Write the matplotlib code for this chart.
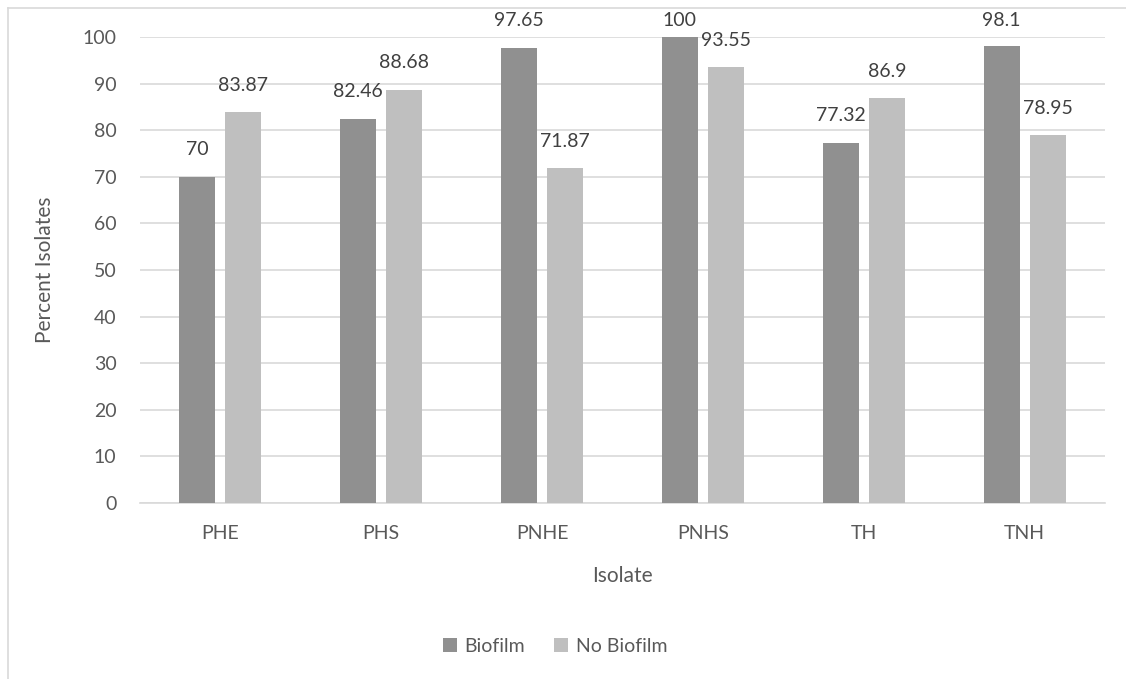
import matplotlib
matplotlib.use("Agg")
import matplotlib.pyplot as plt
from matplotlib.lines import Line2D
import numpy as np

categories = ["PHE", "PHS", "PNHE", "PNHS", "TH", "TNH"]
biofilm = [70, 82.46, 97.65, 100, 77.32, 98.1]
no_biofilm = [83.87, 88.68, 71.87, 93.55, 86.9, 78.95]
biofilm_labels = ["70", "82.46", "97.65", "100", "77.32", "98.1"]
no_biofilm_labels = ["83.87", "88.68", "71.87", "93.55", "86.9", "78.95"]
yticks = [0, 10, 20, 30, 40, 50, 60, 70, 80, 90, 100]

plt.rcParams['font.family'] = ['Lato', 'DejaVu Sans']
txt = "#595959"
W, H = 1126, 679
fig = plt.figure(figsize=(W / 100, H / 100), dpi=100)
ax = fig.add_axes([140 / W, 1 - 503 / H, (1105 - 140) / W, (503 - 37) / H])

x = np.arange(len(categories))
bw = 36 / 160.8
off = 23 / 160.8
b1 = ax.bar(x - off, biofilm, bw, color="#909090", label="Biofilm", zorder=3)
b2 = ax.bar(x + off, no_biofilm, bw, color="#BFBFBF", label="No Biofilm", zorder=3)

ax.set_xlim(-0.5, len(categories) - 0.5)
ax.set_ylim(0, 100)

# data labels: centred ~27 px above each bar, kept inside the chart area
px_per_unit = (503 - 37) / 100.0
gap = 27 / px_per_unit
ymax_label = (503 - 21) / px_per_unit
for xs, vals, labs in [(x - off, biofilm, biofilm_labels), (x + off, no_biofilm, no_biofilm_labels)]:
    for xi, v, lab in zip(xs, vals, labs):
        ax.text(xi, min(v + gap, ymax_label), lab, ha="center", va="center",
                fontsize=14, color="#404040", clip_on=False, zorder=4)

ax.set_yticks(yticks)
ax.set_xticks(x)
ax.set_xticklabels(categories)
ax.yaxis.grid(True, color="#D9D9D9", linewidth=1.2, zorder=0)
ax.set_axisbelow(True)
for s in ["top", "right", "left"]:
    ax.spines[s].set_visible(False)
ax.spines["bottom"].set_color("#D9D9D9")
ax.spines["bottom"].set_linewidth(1.2)
ax.tick_params(axis="both", length=0, labelsize=14, labelcolor=txt)
ax.tick_params(axis="x", pad=16)
ax.tick_params(axis="y", pad=17)
ax.set_xlabel("Isolate", fontsize=15, color=txt, labelpad=17)
ax.set_ylabel("Percent Isolates", fontsize=15, color=txt, labelpad=20)

leg = fig.legend(loc="center", bbox_to_anchor=(555 / W, 1 - 646 / H), ncol=2,
                 frameon=False, fontsize=14, handlelength=0.7, handleheight=0.7,
                 columnspacing=1.5, handletextpad=0.4)
for t in leg.get_texts():
    t.set_color(txt)

fig.add_artist(Line2D([8 / W, 8 / W], [0, 1 - 8 / H], transform=fig.transFigure,
                      color="#D9D9D9", linewidth=1.2))
fig.add_artist(Line2D([8 / W, 1], [1 - 8 / H, 1 - 8 / H], transform=fig.transFigure,
                      color="#D9D9D9", linewidth=1.2))

fig.savefig("out.png", dpi=100)
